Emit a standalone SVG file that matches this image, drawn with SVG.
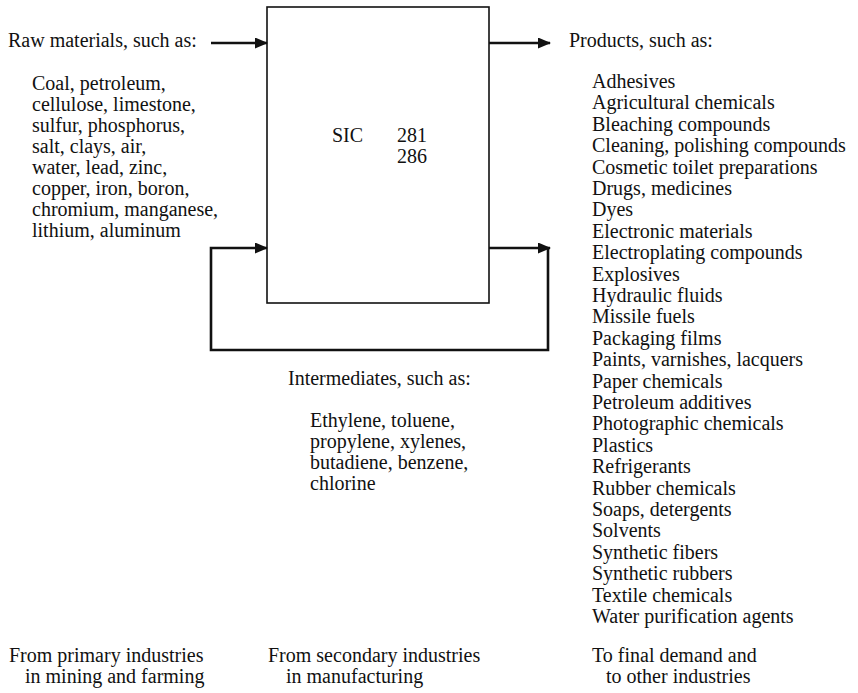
<svg xmlns="http://www.w3.org/2000/svg" width="858" height="693" viewBox="0 0 858 693">
<style>
text{font-family:"Liberation Serif","Times New Roman",serif;font-size:20px;fill:#111}
.box{fill:none;stroke:#111;stroke-width:1.6}
.conn{fill:none;stroke:#111;stroke-width:2.6}
</style>
<defs>
<marker id="ah" viewBox="0 0 13 11" refX="12" refY="5.5" markerWidth="13" markerHeight="11" markerUnits="userSpaceOnUse" orient="auto">
<path d="M0,0 L13,5.5 L0,11 Z" fill="#111"/>
</marker>
</defs>
<rect width="858" height="693" fill="#fff"/>
<g id="node-sic">
<rect class="box" x="267" y="7" width="222" height="296"/>
<text x="332" y="142">SIC</text>
<text x="397" y="142">281</text>
<text x="397" y="163">286</text>
</g>
<g id="connectors">
<path class="conn" d="M211,43 L267,43" marker-end="url(#ah)"/>
<path class="conn" d="M489,43 L550,43" marker-end="url(#ah)"/>
<path class="conn" d="M489,248 L550,248" marker-end="url(#ah)"/>
<path class="conn" d="M548,248 L548,350 L211,350 L211,248 L267,248" marker-end="url(#ah)"/>
</g>
<g id="node-raw">
<text x="8" y="47">Raw materials, such as:</text>
<text x="32" y="90">Coal, petroleum,</text>
<text x="32" y="111">cellulose, limestone,</text>
<text x="32" y="132">sulfur, phosphorus,</text>
<text x="32" y="153">salt, clays, air,</text>
<text x="32" y="174">water, lead, zinc,</text>
<text x="32" y="195">copper, iron, boron,</text>
<text x="32" y="216">chromium, manganese,</text>
<text x="32" y="237">lithium, aluminum</text>
</g>
<g id="node-products">
<text x="569" y="47">Products, such as:</text>
<text x="592" y="88">Adhesives</text>
<text x="592" y="109.4">Agricultural chemicals</text>
<text x="592" y="130.8">Bleaching compounds</text>
<text x="592" y="152.2">Cleaning, polishing compounds</text>
<text x="592" y="173.6">Cosmetic toilet preparations</text>
<text x="592" y="195">Drugs, medicines</text>
<text x="592" y="216.4">Dyes</text>
<text x="592" y="237.8">Electronic materials</text>
<text x="592" y="259.2">Electroplating compounds</text>
<text x="592" y="280.6">Explosives</text>
<text x="592" y="302">Hydraulic fluids</text>
<text x="592" y="323.4">Missile fuels</text>
<text x="592" y="344.8">Packaging films</text>
<text x="592" y="366.2">Paints, varnishes, lacquers</text>
<text x="592" y="387.6">Paper chemicals</text>
<text x="592" y="409">Petroleum additives</text>
<text x="592" y="430.4">Photographic chemicals</text>
<text x="592" y="451.8">Plastics</text>
<text x="592" y="473.2">Refrigerants</text>
<text x="592" y="494.6">Rubber chemicals</text>
<text x="592" y="516">Soaps, detergents</text>
<text x="592" y="537.4">Solvents</text>
<text x="592" y="558.8">Synthetic fibers</text>
<text x="592" y="580.2">Synthetic rubbers</text>
<text x="592" y="601.6">Textile chemicals</text>
<text x="592" y="623">Water purification agents</text>
</g>
<g id="node-intermediates">
<text x="288" y="385">Intermediates, such as:</text>
<text x="310" y="427">Ethylene, toluene,</text>
<text x="310" y="448">propylene, xylenes,</text>
<text x="310" y="469">butadiene, benzene,</text>
<text x="310" y="490">chlorine</text>
</g>
<g id="node-primary">
<text x="9" y="662">From primary industries</text>
<text x="25" y="683">in mining and farming</text>
</g>
<g id="node-secondary">
<text x="268" y="662">From secondary industries</text>
<text x="286" y="683">in manufacturing</text>
</g>
<g id="node-final">
<text x="592" y="662">To final demand and</text>
<text x="606" y="683">to other industries</text>
</g>
</svg>
